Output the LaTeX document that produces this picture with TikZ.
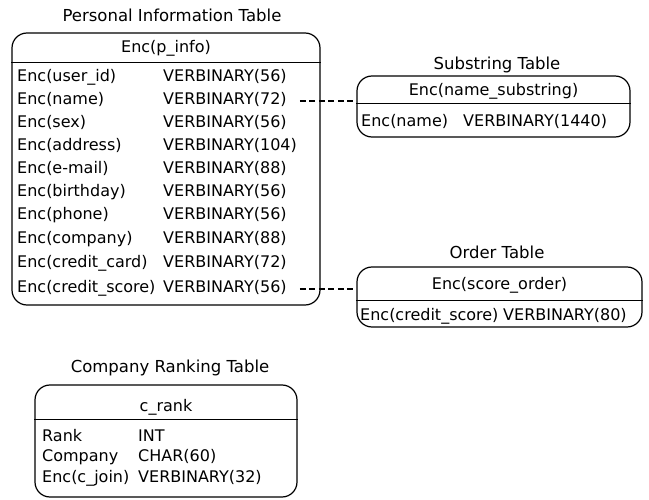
\documentclass[tikz,border=0pt]{standalone}
\usepackage{fontspec}
\setmainfont{DejaVu Sans}
\begin{document}
\begin{tikzpicture}[x=1pt,y=-1pt,
  tbox/.style={draw, line width=1.2pt, rounded corners=15pt, inner sep=0pt},
  ttl/.style={font=\fontsize{16.5}{19}\selectfont, inner sep=0pt},
  txt/.style={font=\fontsize{16}{18}\selectfont, inner sep=0pt, anchor=west,
    text height=11.5pt, text depth=3.5pt, yshift=-1pt},
  hd/.style={font=\fontsize{16}{18}\selectfont, inner sep=0pt,
    text height=11.5pt, text depth=3.5pt, yshift=-1pt},
  hline/.style={line width=1.2pt},
  link/.style={line width=2pt, dash pattern=on 6pt off 3.5pt}]
\useasboundingbox (0,0) rectangle (649,500);

% Personal information table
\node[ttl] (ptitle) at (172,15) {Personal Information Table};
\node[tbox, minimum width=308pt, minimum height=272pt] (pbox) at (166,169) {};
\node[hd] (phead) at (166,48) {Enc(p\_info)};
\draw[hline] ([yshift=-30pt]pbox.north west) -- ([yshift=-30pt]pbox.north east);
\node[txt] (pa1)  at (17,77)  {Enc(user\_id)};
\node[txt] (pb1)  at (163,77) {VERBINARY(56)};
\node[txt] (pa2)  at (17,100) {Enc(name)};
\node[txt] (pb2)  at (163,100) {VERBINARY(72)};
\node[txt] (pa3)  at (17,123) {Enc(sex)};
\node[txt] (pb3)  at (163,123) {VERBINARY(56)};
\node[txt] (pa4)  at (17,146) {Enc(address)};
\node[txt] (pb4)  at (163,146) {VERBINARY(104)};
\node[txt] (pa5)  at (17,169) {Enc(e-mail)};
\node[txt] (pb5)  at (163,169) {VERBINARY(88)};
\node[txt] (pa6)  at (17,192) {Enc(birthday)};
\node[txt] (pb6)  at (163,192) {VERBINARY(56)};
\node[txt] (pa7)  at (17,215) {Enc(phone)};
\node[txt] (pb7)  at (163,215) {VERBINARY(56)};
\node[txt] (pa8)  at (17,239) {Enc(company)};
\node[txt] (pb8)  at (163,239) {VERBINARY(88)};
\node[txt] (pa9)  at (17,263) {Enc(credit\_card)};
\node[txt] (pb9)  at (163,263) {VERBINARY(72)};
\node[txt] (pa10) at (17,288) {Enc(credit\_score)};
\node[txt] (pb10) at (163,288) {VERBINARY(56)};

% Substring table
\node[ttl] (stitle) at (497,65) {Substring Table};
\node[tbox, minimum width=273pt, minimum height=61pt] (sbox) at (493.5,106.5) {};
\node[hd] (shead) at (493.5,91) {Enc(name\_substring)};
\draw[hline] ([yshift=-28pt]sbox.north west) -- ([yshift=-28pt]sbox.north east);
\node[txt] (sa1) at (361,122) {Enc(name)};
\node[txt] (sb1) at (463,122) {VERBINARY(1440)};

% Order table
\node[ttl] (otitle) at (497,252) {Order Table};
\node[tbox, minimum width=285pt, minimum height=60pt] (obox) at (499.5,297) {};
\node[hd] (ohead) at (499.5,285) {Enc(score\_order)};
\draw[hline] ([yshift=-34pt]obox.north west) -- ([yshift=-34pt]obox.north east);
\node[txt] (oa1) at (360,316) {Enc(credit\_score)};
\node[txt] (ob1) at (503,316) {VERBINARY(80)};

% Company ranking table
\node[ttl] (ctitle) at (170,368) {Company Ranking Table};
\node[tbox, minimum width=262pt, minimum height=112pt] (cbox) at (166,441) {};
\node[hd] (chead) at (166,406) {c\_rank};
\draw[hline] ([yshift=-35pt]cbox.north west) -- ([yshift=-35pt]cbox.north east);
\node[txt] (ca1) at (42,436) {Rank};
\node[txt] (cb1) at (138,436) {INT};
\node[txt] (ca2) at (42,456) {Company};
\node[txt] (cb2) at (138,456) {CHAR(60)};
\node[txt] (ca3) at (42,477) {Enc(c\_join)};
\node[txt] (cb3) at (138,477) {VERBINARY(32)};

% Links between tables
\draw[link, shorten <=13pt] (pb2.east) -- (pb2.east -| sbox.west);
\draw[link, shorten <=13pt] (pb10.east) -- (pb10.east -| obox.west);
\end{tikzpicture}
\end{document}
